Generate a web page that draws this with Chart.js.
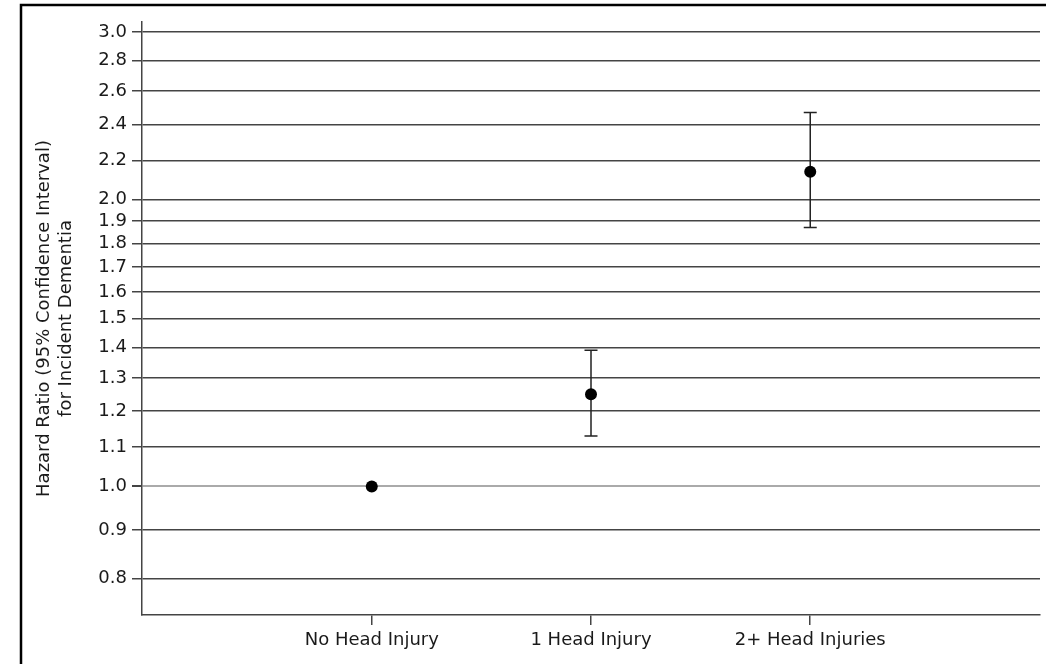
<!DOCTYPE html>
<html><head><meta charset="utf-8">
<script src="https://cdn.jsdelivr.net/npm/chart.js@4.4.1/dist/chart.umd.min.js"></script>
<style>html,body{margin:0;padding:0;background:#fff}#wrap{width:1046px;height:664px;position:relative}</style>
</head><body><div id="wrap"><canvas id="c" width="1046" height="664"></canvas></div>
<script>
const categories = ['No Head Injury', '1 Head Injury', '2+ Head Injuries'];
const hazardRatio = [1.0, 1.25, 2.14];
const ciLower = [null, 1.13, 1.87];
const ciUpper = [null, 1.39, 2.47];
const yTickValues = [0.8, 0.9, 1.0, 1.1, 1.2, 1.3, 1.4, 1.5, 1.6, 1.7, 1.8, 1.9, 2.0, 2.2, 2.4, 2.6, 2.8, 3.0];
const yTitle = ['Hazard Ratio (95% Confidence Interval)', 'for Incident Dementia'];

const FONT = {family: '"DejaVu Sans", "Liberation Sans", Arial, sans-serif', size: 18};
const TEXT = '#1a1a1a';
const GRID = '#444';

const framePlugin = {
  id: 'frame',
  beforeDraw(chart) {
    const ctx = chart.ctx;
    ctx.save();
    ctx.fillStyle = '#fff';
    ctx.fillRect(0, 0, chart.width, chart.height);
    ctx.strokeStyle = '#000';
    ctx.lineWidth = 2.5;
    ctx.beginPath();
    ctx.moveTo(21, chart.height);
    ctx.lineTo(21, 5);
    ctx.lineTo(chart.width, 5);
    ctx.stroke();
    ctx.restore();
  }
};

const errorBarPlugin = {
  id: 'errbars',
  beforeDatasetsDraw(chart) {
    const ctx = chart.ctx;
    const xs = chart.scales.x, ys = chart.scales.y;
    ctx.save();
    ctx.strokeStyle = '#222';
    ctx.lineWidth = 1.5;
    categories.forEach((c, i) => {
      if (ciLower[i] == null) return;
      const x = xs.getPixelForValue(i);
      const yl = ys.getPixelForValue(ciLower[i]);
      const yu = ys.getPixelForValue(ciUpper[i]);
      ctx.beginPath();
      ctx.moveTo(x, yl); ctx.lineTo(x, yu);
      ctx.moveTo(x - 6.5, yl); ctx.lineTo(x + 6.5, yl);
      ctx.moveTo(x - 6.5, yu); ctx.lineTo(x + 6.5, yu);
      ctx.stroke();
    });
    ctx.restore();
  }
};

new Chart(document.getElementById('c'), {
  type: 'scatter',
  data: {
    datasets: [{
      data: categories.map((c, i) => ({x: i, y: hazardRatio[i]})),
      pointRadius: 6,
      pointBackgroundColor: '#000',
      pointBorderColor: '#000',
      pointBorderWidth: 0,
      showLine: false
    }]
  },
  options: {
    responsive: false,
    devicePixelRatio: 1,
    animation: false,
    events: [],
    layout: {padding: {left: 0, right: 5, top: 22, bottom: 0}},
    plugins: {legend: {display: false}, tooltip: {enabled: false}},
    scales: {
      x: {
        type: 'linear',
        bounds: 'data',
        min: -1.048,
        max: 3.048,
        afterBuildTicks(scale) { scale.ticks = categories.map((c, i) => ({value: i})); },
        afterFit(scale) { scale.height = 49; },
        ticks: {
          autoSkip: false,
          maxRotation: 0,
          padding: 5,
          color: TEXT,
          font: FONT,
          callback: (v) => categories[v]
        },
        grid: {drawOnChartArea: false, drawTicks: true, tickLength: 10, color: GRID, lineWidth: 1.5},
        border: {display: true, color: GRID, width: 1.5}
      },
      y: {
        type: 'logarithmic',
        bounds: 'data',
        min: 0.733,
        max: 3.073,
        afterBuildTicks(scale) { scale.ticks = yTickValues.map(v => ({value: v})); },
        afterFit(scale) { scale.width = 142; },
        ticks: {
          autoSkip: false,
          padding: 5,
          color: TEXT,
          font: FONT,
          callback: (v) => Number(v).toFixed(1)
        },
        grid: {
          drawTicks: true,
          tickLength: 10,
          color: (ctx) => (ctx.tick && Math.abs(ctx.tick.value - 1) < 1e-9) ? '#aaa' : GRID,
          tickColor: GRID,
          lineWidth: (ctx) => (ctx.tick && Math.abs(ctx.tick.value - 1) < 1e-9) ? 2 : 1.5
        },
        border: {display: true, color: GRID, width: 1.5},
        title: {
          display: true,
          text: yTitle,
          color: TEXT,
          font: FONT,
          padding: {top: 34, bottom: 0}
        }
      }
    }
  },
  plugins: [framePlugin, errorBarPlugin]
});
</script>
</body></html>
